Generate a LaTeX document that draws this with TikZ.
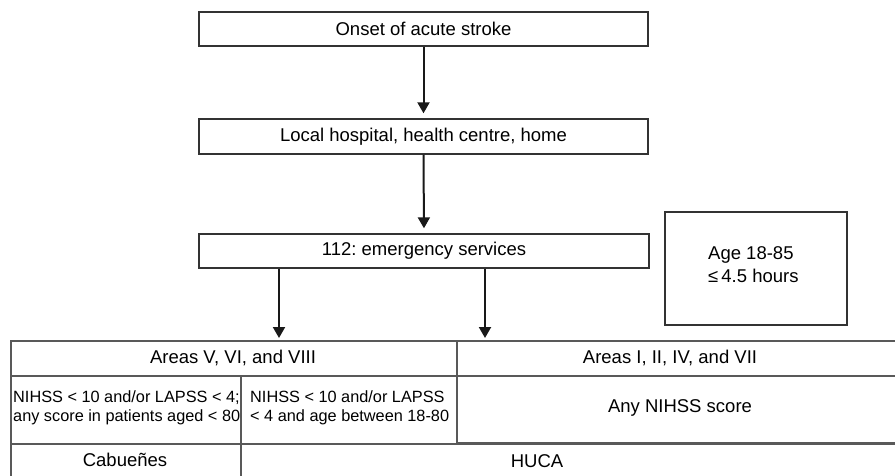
\documentclass[tikz,border=0pt]{standalone}
\usepackage{fontspec}
\setmainfont{Liberation Sans}
\usetikzlibrary{arrows.meta}
\frenchspacing
\begin{document}
\begin{tikzpicture}[x=1pt,y=-1pt,
  box/.style={draw=black!80,line width=1.4pt,minimum height=34pt,inner sep=0pt,font=\fontsize{18.5}{22}\selectfont},
  cell/.style={draw=black!65,line width=1.7pt,inner sep=0pt,anchor=north west},
  txt/.style={inner sep=0pt,font=\fontsize{18.5}{22}\selectfont},
  small/.style={font=\fontsize{16.3}{19}\selectfont,align=left,inner sep=0pt,anchor=west},
  arr/.style={-{Triangle[length=11pt,width=12pt]},line width=2pt,draw=black!90}]
\useasboundingbox (0,0) rectangle (895,475);
\clip (0,0) rectangle (895,475);
% flow boxes
\node[box,minimum width=449pt] (onset) at (423.5,29) {Onset of acute stroke};
\node[box,minimum width=449pt,minimum height=35pt] (local) at (423.5,136.5) {Local hospital, health centre, home};
\node[box,minimum width=450pt] (ems) at (424,251) {112: emergency services};
\node[box,minimum width=182pt,minimum height=113pt] (age) at (756,268.5) {};
\node[txt,align=left,anchor=north west] (agetxt) at (708,246) {Age 18-85\\[1pt]≤\,4.5 hours};
% table
\node[cell,minimum width=446pt,minimum height=35pt] (areaL) at (10,340) {};
\node[cell,minimum width=449pt,minimum height=35pt] (areaR) at (456,340) {};
\node[cell,minimum width=230pt,minimum height=68pt] (c1) at (10,375) {};
\node[cell,minimum width=216pt,minimum height=68pt] (c2) at (240,375) {};
\node[cell,minimum width=449pt,minimum height=67pt] (c3) at (456,375) {};
\node[cell,minimum width=230pt,minimum height=40pt] (cab) at (10,443) {};
\node[cell,minimum width=665pt,minimum height=40pt] (huca) at (240,443) {};
\node[txt] at (233,357.5) {Areas V, VI, and VIII};
\node[txt] at (670,357.5) {Areas I, II, IV, and VII};
\node[small] at (13,408) {NIHSS < 10 and/or LAPSS < 4;\\any score in patients aged < 80};
\node[small] at (250,408) {NIHSS < 10 and/or LAPSS\\< 4 and age between 18-80};
\node[txt] at (680,408) {Any NIHSS score};
\node[txt] at (125,460) {Cabueñes};
\node[txt] at (537,461) {HUCA};
% arrows
\draw[arr,shorten >=5pt] (onset.south) -- (local.north);
\draw[arr,shorten >=5pt] (local.south) -- (ems.north);
\draw[arr,shorten >=2pt] (ems.south -| 279,0) -- (areaL.north -| 279,0);
\draw[arr,shorten >=2pt] (ems.south -| 485,0) -- (areaR.north -| 485,0);
\end{tikzpicture}
\end{document}
